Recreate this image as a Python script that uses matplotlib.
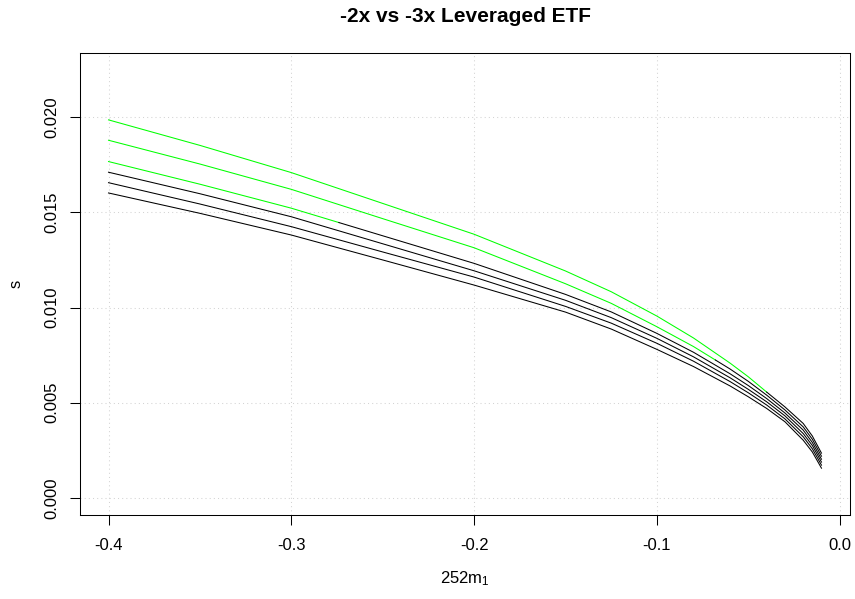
import numpy as np
import matplotlib
matplotlib.use("Agg")
import matplotlib.pyplot as plt

plt.rcParams['font.family'] = ['Liberation Sans', 'DejaVu Sans']
plt.rcParams['mathtext.fontset'] = 'custom'
plt.rcParams['mathtext.rm'] = 'Liberation Sans'
plt.rcParams['mathtext.it'] = 'Liberation Sans:italic'
plt.rcParams['axes.unicode_minus'] = False

# -----------------------------------------------------------------------------
# datos
# -----------------------------------------------------------------------------
m1 = [-0.40, -0.35, -0.30, -0.25, -0.20, -0.15, -0.125, -0.10, -0.08, -0.06, -0.05,
      -0.04, -0.03, -0.02, -0.015, -0.01]

s1 = [0.01986, 0.01852, 0.01709, 0.01547, 0.01385, 0.01192, 0.01083, 0.00955, 0.00840,
      0.00708, 0.00636, 0.00556, 0.00478, 0.00391, 0.00325, 0.00235]
s2 = [0.01879, 0.01754, 0.01621, 0.01467, 0.01314, 0.01125, 0.01022, 0.00899, 0.00795,
      0.00677, 0.00612, 0.00540, 0.00462, 0.00373, 0.00308, 0.00219]
s3 = [0.01767, 0.01648, 0.01522, 0.01377, 0.01232, 0.01069, 0.00977, 0.00864, 0.00765,
      0.00652, 0.00590, 0.00522, 0.00446, 0.00356, 0.00291, 0.00203]
s4 = [0.01711, 0.01598, 0.01477, 0.01335, 0.01193, 0.01038, 0.00947, 0.00838, 0.00741,
      0.00631, 0.00570, 0.00505, 0.00431, 0.00338, 0.00275, 0.00188]
s5 = [0.01656, 0.01544, 0.01425, 0.01292, 0.01160, 0.01006, 0.00918, 0.00812, 0.00718,
      0.00611, 0.00552, 0.00488, 0.00415, 0.00321, 0.00258, 0.00172]
s6 = [0.01602, 0.01495, 0.01381, 0.01250, 0.01118, 0.00976, 0.00887, 0.00780, 0.00690,
      0.00588, 0.00531, 0.00470, 0.00400, 0.00303, 0.00241, 0.00156]

curvas = [s1, s2, s3, s4, s5, s6]
# hasta donde cada curva va en verde (None = toda negra)
fin_verde = [-0.040, -0.068, -0.274, None, None, None]

x_ticks = [-0.4, -0.3, -0.2, -0.1, 0.0]
y_ticks = [0.000, 0.005, 0.010, 0.015, 0.020]

# -----------------------------------------------------------------------------
fig = plt.figure(figsize=(8.55, 5.99), dpi=100)
ax = fig.add_axes([80 / 855, 1 - 515 / 599, 770 / 855, (515 - 52.5) / 599])

x = np.array(m1)
for s, fin in zip(curvas, fin_verde):
    y = np.array(s)
    if fin is None:
        ax.plot(x, y, color='black', lw=0.75)
        continue
    y_fin = np.interp(fin, x, y)
    izq = x < fin
    ax.plot(np.append(x[izq], fin), np.append(y[izq], y_fin), color='#00FF00', lw=0.75)
    ax.plot(np.insert(x[~izq], 0, fin), np.insert(y[~izq], 0, y_fin), color='black', lw=0.75)

ax.set_xlim(-0.4156, 0.0056)
ax.set_ylim(-0.0009, 0.0234)
ax.set_xticks(x_ticks)
ax.set_xticklabels(['%.1f' % v for v in x_ticks])
ax.set_yticks(y_ticks)
ax.set_yticklabels(['%.3f' % v for v in y_ticks], rotation=90, va='center')

ax.grid(True, color='#D3D3D3', linestyle=(0, (1, 3)), linewidth=0.75)
ax.set_axisbelow(True)
for sp in ax.spines.values():
    sp.set_linewidth(0.75)
    sp.set_color('black')

ax.tick_params(axis='both', length=7.2, width=0.75, labelsize=12, colors='black')
ax.tick_params(axis='x', pad=9.4)
ax.tick_params(axis='y', pad=7.8)

ax.set_title('-2x vs -3x Leveraged ETF', fontsize=15, fontweight='bold', pad=22)
ax.set_xlabel(r'252m$_{\mathregular{1}}$', fontsize=12, labelpad=11.5)
ax.set_ylabel('s', fontsize=12, labelpad=14.8)

fig.savefig('out.png', dpi=100)
